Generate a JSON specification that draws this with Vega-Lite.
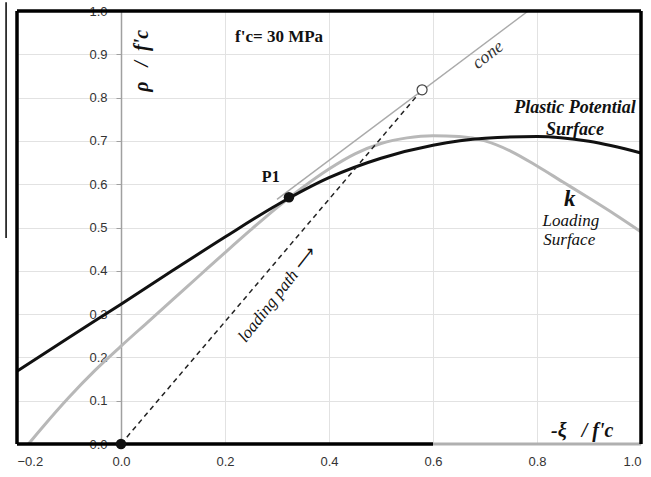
{
  "$schema": "https://vega.github.io/schema/vega-lite/v6.json",
  "width": 624,
  "height": 433,
  "autosize": {"type": "none"},
  "padding": {"left": 17, "top": 11, "right": 10, "bottom": 33},
  "background": "white",
  "config": {"view": {"stroke": null}},
  "encoding": {
    "x": {"field": "x", "type": "quantitative", "scale": {"domain": [-0.2, 1.0], "nice": false, "zero": false},
      "axis": {"title": null, "values": [-0.2, 0, 0.2, 0.4, 0.6, 0.8, 1.0], "format": ".1f", "grid": true, "gridColor": "#e2e2e2", "gridWidth": 1, "domain": false, "ticks": false, "labelPadding": 11, "labelFont": "Liberation Sans", "labelFontSize": 13, "labelColor": "#333"}},
    "y": {"field": "y", "type": "quantitative", "scale": {"domain": [0, 1.0], "nice": false},
      "axis": {"title": null, "values": [0, 0.1, 0.2, 0.3, 0.4, 0.5, 0.6, 0.7, 0.8, 0.9, 1.0], "format": ".1f", "grid": true, "gridColor": "#e2e2e2", "gridWidth": 1, "offset": -104, "domain": true, "domainColor": "#a0a0a0", "domainWidth": 1.5, "tickColor": "#a0a0a0", "tickSize": 5, "labelPadding": 9, "labelFont": "Liberation Sans", "labelFontSize": 13, "labelColor": "#333"}}
  },
  "layer": [
    {
      "data": {"values": [{"x": 0.6, "y": 0}, {"x": 1.0, "y": 0}]},
      "mark": {"type": "line", "color": "#b0b0b0", "strokeWidth": 3}
    },
    {
      "data": {"values": [{"x": 0.30, "y": 0.565}, {"x": 0.783, "y": 1.0}]},
      "mark": {"type": "line", "color": "#aaaaaa", "strokeWidth": 1.5}
    },
    {
      "data": {"values": [
        {"x": -0.178, "y": 0}, {"x": -0.15, "y": 0.04}, {"x": -0.1, "y": 0.108}, {"x": -0.05, "y": 0.17},
        {"x": 0, "y": 0.226}, {"x": 0.05, "y": 0.28}, {"x": 0.1, "y": 0.334}, {"x": 0.15, "y": 0.388},
        {"x": 0.2, "y": 0.442}, {"x": 0.25, "y": 0.495}, {"x": 0.3, "y": 0.546}, {"x": 0.35, "y": 0.593},
        {"x": 0.4, "y": 0.635}, {"x": 0.45, "y": 0.67}, {"x": 0.5, "y": 0.694}, {"x": 0.55, "y": 0.707},
        {"x": 0.6, "y": 0.712}, {"x": 0.65, "y": 0.71}, {"x": 0.7, "y": 0.7}, {"x": 0.75, "y": 0.676},
        {"x": 0.8, "y": 0.642}, {"x": 0.85, "y": 0.605}, {"x": 0.9, "y": 0.568}, {"x": 0.95, "y": 0.53},
        {"x": 1.0, "y": 0.49}
      ]},
      "mark": {"type": "line", "color": "#b8b8b8", "strokeWidth": 3, "interpolate": "monotone"}
    },
    {
      "data": {"values": [
        {"x": -0.2, "y": 0.168}, {"x": -0.1, "y": 0.246}, {"x": 0, "y": 0.323}, {"x": 0.1, "y": 0.401},
        {"x": 0.2, "y": 0.478}, {"x": 0.3, "y": 0.552}, {"x": 0.4, "y": 0.615}, {"x": 0.5, "y": 0.66},
        {"x": 0.6, "y": 0.69}, {"x": 0.7, "y": 0.706}, {"x": 0.8, "y": 0.71}, {"x": 0.9, "y": 0.699},
        {"x": 1.0, "y": 0.672}
      ]},
      "mark": {"type": "line", "color": "#111111", "strokeWidth": 3, "interpolate": "monotone"}
    },
    {
      "data": {"values": [{"x": 0, "y": 0}, {"x": 0.579, "y": 0.818}]},
      "mark": {"type": "line", "color": "#222222", "strokeWidth": 1.5, "strokeDash": [5, 4]}
    },
    {
      "data": {"values": [
        {"x": -0.2, "x2": 1.0, "y": 1.0, "y2": 1.0},
        {"x": -0.2, "x2": -0.2, "y": 0, "y2": 1.0},
        {"x": 1.0, "x2": 1.0, "y": 0, "y2": 1.0},
        {"x": -0.2, "x2": 0.6, "y": 0, "y2": 0}
      ]},
      "mark": {"type": "rule", "color": "#000000", "strokeWidth": 3.5},
      "encoding": {"x2": {"field": "x2"}, "y2": {"field": "y2"}}
    },
    {
      "data": {"values": [{"x": -0.221, "x2": -0.221, "y": 1.02, "y2": 0.476}]},
      "mark": {"type": "rule", "color": "#000000", "strokeWidth": 1.5},
      "encoding": {"x2": {"field": "x2"}, "y2": {"field": "y2"}}
    },
    {
      "data": {"values": [{"x": 0, "y": 0}, {"x": 0.323, "y": 0.57}]},
      "mark": {"type": "point", "filled": true, "color": "#111111", "size": 110, "opacity": 1}
    },
    {
      "data": {"values": [{"x": 0.579, "y": 0.818}]},
      "mark": {"type": "point", "filled": false, "color": "#444444", "fill": "white", "fillOpacity": 1, "strokeWidth": 1.2, "size": 100, "opacity": 1}
    },
    {
      "data": {"values": [{"x": 0.304, "y": 0.939, "label": "f'c= 30 MPa"}]},
      "mark": {"type": "text", "font": "Liberation Serif", "fontSize": 17, "fontWeight": "bold", "color": "#111"},
      "encoding": {"text": {"field": "label"}}
    },
    {
      "data": {"values": [{"x": 0.288, "y": 0.617, "label": "P1"}]},
      "mark": {"type": "text", "font": "Liberation Serif", "fontSize": 16, "fontWeight": "bold", "color": "#111"},
      "encoding": {"text": {"field": "label"}}
    },
    {
      "data": {"values": [{"x": 0.04, "y": 0.885, "label": "ρ\u00a0\u00a0\u00a0/\u00a0\u00a0f'c"}]},
      "mark": {"type": "text", "font": "Liberation Serif", "fontSize": 20, "fontWeight": "bold", "fontStyle": "italic", "color": "#111", "angle": 270},
      "encoding": {"text": {"field": "label"}}
    },
    {
      "data": {"values": [{"x": 0.887, "y": 0.03, "label": "-ξ\u00a0\u00a0\u00a0/\u00a0f'c"}]},
      "mark": {"type": "text", "font": "Liberation Serif", "fontSize": 20, "fontWeight": "bold", "fontStyle": "italic", "color": "#111"},
      "encoding": {"text": {"field": "label"}}
    },
    {
      "data": {"values": [{"x": 0.706, "y": 0.898, "label": "cone"}]},
      "mark": {"type": "text", "font": "Liberation Serif", "fontSize": 18, "fontStyle": "italic", "color": "#333", "angle": 322},
      "encoding": {"text": {"field": "label"}}
    },
    {
      "data": {"values": [{"x": 0.873, "y": 0.776, "label": "Plastic Potential"}, {"x": 0.873, "y": 0.725, "label": "Surface"}]},
      "mark": {"type": "text", "font": "Liberation Serif", "fontSize": 18, "fontWeight": "bold", "fontStyle": "italic", "color": "#111"},
      "encoding": {"text": {"field": "label"}}
    },
    {
      "data": {"values": [{"x": 0.863, "y": 0.565, "label": "k"}]},
      "mark": {"type": "text", "font": "Liberation Serif", "fontSize": 23, "fontWeight": "bold", "fontStyle": "italic", "color": "#111"},
      "encoding": {"text": {"field": "label"}}
    },
    {
      "data": {"values": [{"x": 0.865, "y": 0.515, "label": "Loading"}, {"x": 0.862, "y": 0.471, "label": "Surface"}]},
      "mark": {"type": "text", "font": "Liberation Serif", "fontSize": 17, "fontStyle": "italic", "color": "#111"},
      "encoding": {"text": {"field": "label"}}
    },
    {
      "data": {"values": [{"x": 0.30, "y": 0.344, "label": "loading path ⟶"}]},
      "mark": {"type": "text", "font": "Liberation Serif", "fontSize": 17, "fontStyle": "italic", "color": "#111", "angle": 308},
      "encoding": {"text": {"field": "label"}}
    }
  ]
}
